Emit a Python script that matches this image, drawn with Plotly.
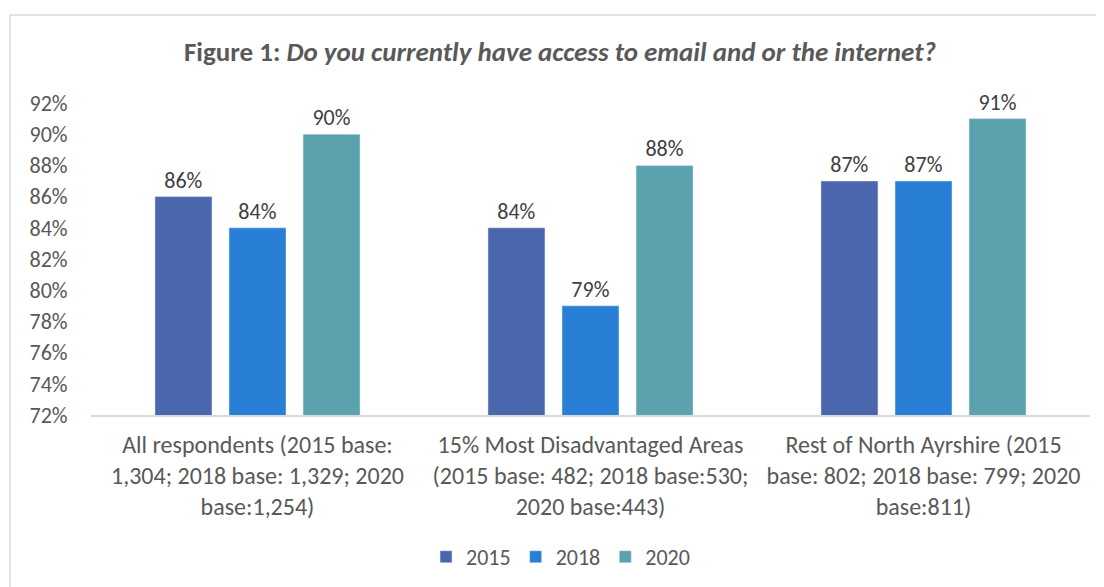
import plotly.graph_objects as go

# Survey data
categories = [
    "All respondents (2015 base:<br>1,304; 2018 base: 1,329; 2020<br>base:1,254)",
    "15% Most Disadvantaged Areas<br>(2015 base: 482; 2018 base:530;<br>2020 base:443)",
    "Rest of North Ayrshire (2015<br>base: 802; 2018 base: 799; 2020<br>base:811)",
]
years = ["2015", "2018", "2020"]
values_2015 = [86, 84, 87]
values_2018 = [84, 79, 87]
values_2020 = [90, 88, 91]
y_ticks = list(range(72, 93, 2))

colors = {"2015": "#4A66AC", "2018": "#297FD5", "2020": "#5AA2AE"}
font_family = "Carlito, Lato, 'Open Sans', sans-serif"
text_col = "#595959"

fig = go.Figure()
for year, vals in zip(years, [values_2015, values_2018, values_2020]):
    fig.add_trace(go.Bar(
        name=year,
        x=categories,
        y=vals,
        marker_color=colors[year],
        text=[f"{v}%" for v in vals],
        textposition="outside",
        textfont=dict(size=22, color="#404040", family=font_family),
        cliponaxis=False,
    ))

# page body adds an 8px offset, margins account for it
fig.update_layout(
    width=1104,
    height=587,
    barmode="group",
    bargap=0.333,
    bargroupgap=0.23,
    paper_bgcolor="white",
    plot_bgcolor="white",
    margin=dict(l=83, r=22, t=95, b=180),
    font=dict(family=font_family, color=text_col, size=22),
    title=dict(
        text="<b>Figure 1: <i>Do you currently have access to email and or the internet?</i></b>",
        x=0.5,
        xanchor="center",
        y=0.925,
        yanchor="middle",
        font=dict(size=27, color=text_col, family=font_family),
    ),
    legend=dict(
        orientation="h",
        x=0.47,
        xanchor="center",
        y=-0.455,
        yanchor="middle",
        font=dict(size=22, color=text_col),
        traceorder="normal",
    ),
    shapes=[dict(
        type="rect", xref="paper", yref="paper",
        x0=-0.081, x1=1.05, y0=-0.65, y1=1.282,
        line=dict(color="#D9D9D9", width=1.5),
        fillcolor="rgba(0,0,0,0)",
        layer="below",
    )],
)

fig.update_xaxes(
    automargin=False,
    showline=True,
    linecolor="#D9D9D9",
    linewidth=1.5,
    ticks="",
    ticklabelstandoff=7,
    tickfont=dict(size=24, color=text_col),
    tickangle=0,
)
fig.update_yaxes(
    automargin=False,
    range=[72, 92],
    tickvals=y_ticks,
    ticktext=[f"{t}%" for t in y_ticks],
    showgrid=False,
    zeroline=False,
    showline=False,
    ticks="outside",
    tickcolor="white",
    ticklen=18,
    tickfont=dict(size=22, color=text_col),
)

fig.write_html("out.html")
